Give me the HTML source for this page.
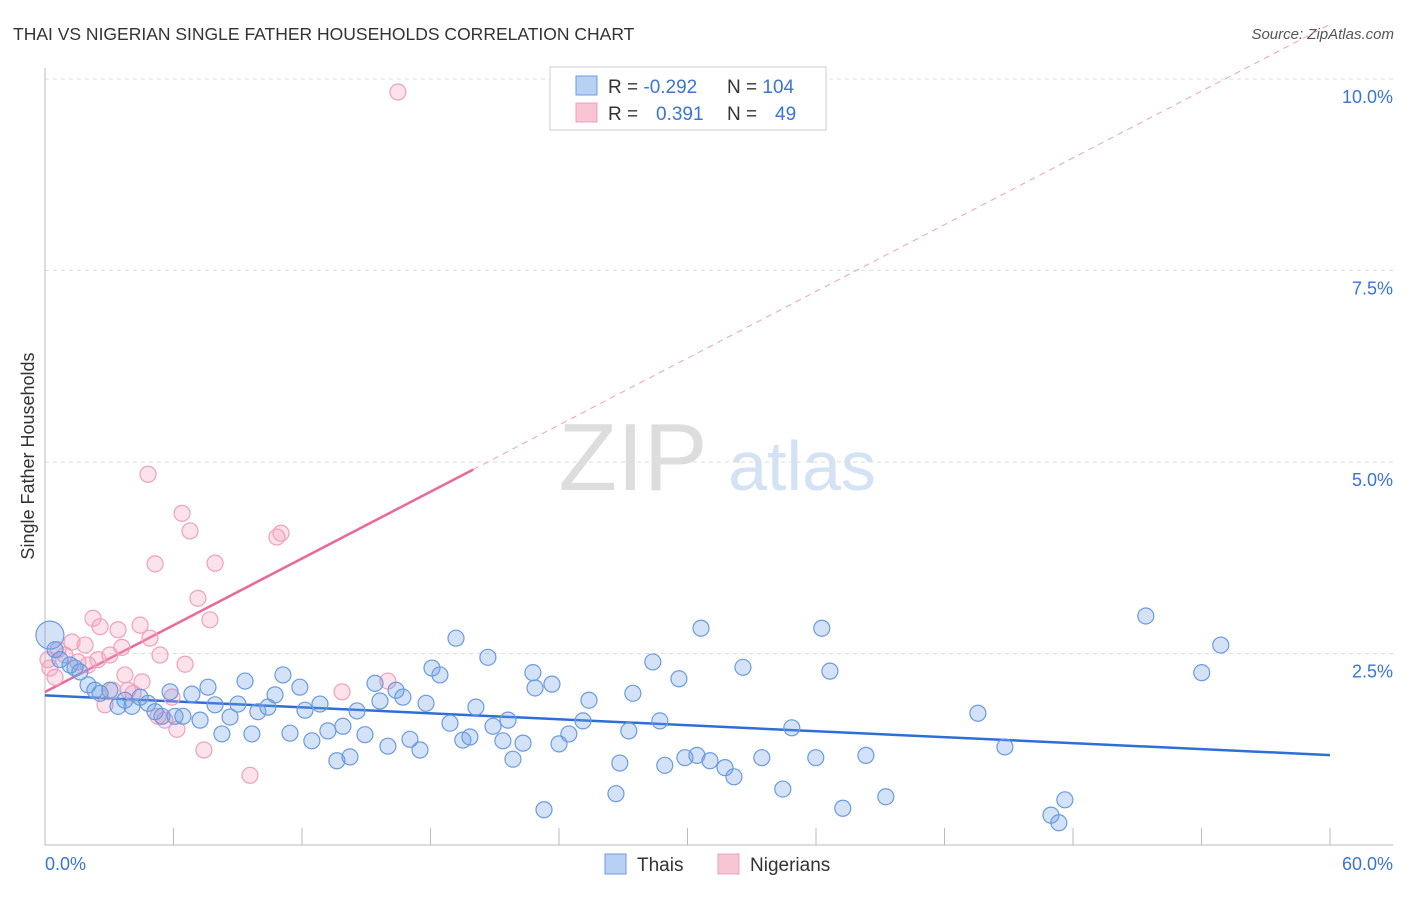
<!DOCTYPE html>
<html><head><meta charset="utf-8"><style>
body{margin:0;background:#fff;font-family:"Liberation Sans",sans-serif;}
svg text{font-family:"Liberation Sans",sans-serif;}
</style></head><body>
<svg id="chart" width="1406" height="892" viewBox="0 0 1406 892" xmlns="http://www.w3.org/2000/svg">
<text x="13" y="40" font-size="17.5" fill="#333">THAI VS NIGERIAN SINGLE FATHER HOUSEHOLDS CORRELATION CHART</text>
<text x="1394" y="39" font-size="15" fill="#555" font-style="italic" text-anchor="end">Source: ZipAtlas.com</text>
<g>
<text x="633" y="490" font-size="96" fill="#ddd" font-family="Liberation Serif,serif" text-anchor="middle">ZIP</text>
<text x="802" y="490" font-size="70" fill="#d3e2f5" text-anchor="middle">atlas</text>
</g>
<g id="grid"></g>
<g id="axes"></g>
<g id="lines"></g>
<g id="points"></g>
<text transform="translate(34,456) rotate(-90)" font-size="18" fill="#333" text-anchor="middle">Single Father Households</text>
<g>
<rect x="550" y="67" width="276" height="63" fill="#fff" stroke="#ccc"/>
<rect x="576" y="76" width="21" height="19" fill="#b7d0f3" stroke="#6a9be0"/>
<rect x="576" y="103" width="21" height="19" fill="#f8c5d5" stroke="#f0a0bc"/>
<text x="608" y="93" font-size="19" fill="#333">R = <tspan fill="#3a74d4">-0.292</tspan><tspan x="727">N = </tspan><tspan fill="#3a74d4">104</tspan></text>
<text x="608" y="120" font-size="19" fill="#333">R = <tspan x="656" fill="#3a74d4">0.391</tspan><tspan x="727">N = </tspan><tspan x="775" fill="#3a74d4">49</tspan></text>
</g>
<g>
<rect x="605" y="854" width="21" height="20" fill="#b7d0f3" stroke="#6a9be0"/>
<text x="637" y="871" font-size="19" fill="#333">Thais</text>
<rect x="718" y="854" width="21" height="20" fill="#f8c5d5" stroke="#f0a0bc"/>
<text x="750" y="871" font-size="19" fill="#333">Nigerians</text>
</g>
</svg>
<script>
const xTicks=[0,6,12,18,24,30,36,42,48,54,60];
const yTicks=[2.5,5.0,7.5,10.0];
const yTickLabels=["2.5%","5.0%","7.5%","10.0%"];
const xEndLabels=["0.0%","60.0%"];
const thaiX=[.23,.47,.70,1.17,1.40,1.63,2.01,2.33,2.57,3.03,3.41,3.73,4.06,4.44,4.81,5.14,5.46,5.84,6.07,6.44,6.86,7.24,7.61,7.94,8.26,8.64,9.01,9.34,9.66,9.94,10.41,10.74,11.11,11.44,11.90,12.14,12.46,12.84,13.21,13.63,13.91,14.24,14.57,14.94,15.41,15.64,16.01,16.39,16.71,17.04,17.51,17.79,18.07,18.44,18.91,19.19,19.51,19.84,20.12,20.68,20.92,21.38,21.62,21.85,22.32,22.78,22.88,23.30,23.67,24.00,24.46,25.12,25.40,26.66,26.84,27.26,27.45,28.38,28.71,28.94,29.60,29.88,30.44,30.63,31.05,31.75,32.17,32.59,33.47,34.45,34.87,35.99,36.27,36.65,37.25,38.33,39.26,43.56,44.82,46.97,47.34,47.62,51.40,54.01,54.90];
const thaiY=[2.74,2.55,2.42,2.35,2.31,2.26,2.09,2.02,1.98,2.02,1.81,1.89,1.81,1.93,1.85,1.74,1.68,2.00,1.68,1.68,1.97,1.63,2.06,1.83,1.45,1.67,1.84,2.14,1.45,1.74,1.80,1.96,2.22,1.46,2.06,1.76,1.36,1.84,1.49,1.10,1.55,1.15,1.75,1.44,2.11,1.88,1.29,2.02,1.93,1.38,1.24,1.85,2.31,2.22,1.59,2.70,1.37,1.41,1.80,2.45,1.55,1.36,1.63,1.12,1.33,2.25,2.05,0.46,2.10,1.32,1.45,1.62,1.89,0.67,1.07,1.49,1.98,2.39,1.62,1.04,2.17,1.14,1.17,2.83,1.10,1.01,0.89,2.32,1.14,0.73,1.53,1.14,2.83,2.27,0.48,1.17,0.63,1.72,1.28,0.39,0.29,0.59,2.99,2.25,2.61];
const nigX=[.14,.23,.47,.61,.93,1.26,1.54,1.87,2.01,2.24,2.47,2.57,2.80,3.03,3.17,3.41,3.59,3.73,3.87,4.11,4.44,4.53,4.81,4.90,5.14,5.28,5.37,5.60,5.93,6.16,6.40,6.54,6.77,7.14,7.42,7.70,7.94,9.57,10.83,11.02,13.87,16.01,16.48];
const nigY=[2.42,2.31,2.19,2.55,2.48,2.65,2.39,2.61,2.35,2.96,2.42,2.85,1.83,2.48,2.02,2.81,2.58,2.22,2.02,1.98,2.87,2.13,4.84,2.70,3.67,1.68,2.48,1.63,1.93,1.51,4.33,2.36,4.10,3.22,1.24,2.94,3.68,0.91,4.02,4.07,2.00,2.14,9.83];
const X0=45,X1=1330,Y0=845,Y10=79;
const sx=v=>X0+(v/60)*(X1-X0);
const sy=v=>Y0-(v/10)*(Y0-Y10);
const NS="http://www.w3.org/2000/svg";
function mk(tag,attrs,parent){const e=document.createElementNS(NS,tag);for(const k in attrs)e.setAttribute(k,attrs[k]);parent.appendChild(e);return e;}
const grid=document.getElementById('grid'),axes=document.getElementById('axes'),lines=document.getElementById('lines'),pts=document.getElementById('points');
yTicks.forEach((t,i)=>{
 const l=mk('line',{x1:X0,x2:1393,y1:sy(t),y2:sy(t),stroke:'#ddd','stroke-dasharray':'4,4'},grid);
 
 
 const tx=mk('text',{x:1393,y:sy(t)+24,'font-size':18,fill:'#3a74d4','text-anchor':'end'},axes);
 tx.textContent=yTickLabels[i];
 
 
});
mk('line',{x1:X0,x2:X0,y1:68,y2:Y0,stroke:'#bbb'},axes);
mk('line',{x1:X0,x2:1393,y1:Y0,y2:Y0,stroke:'#bbb'},axes);
xTicks.forEach(t=>{
 const l=mk('line',{x1:sx(t),x2:sx(t),y1:828,y2:Y0,stroke:'#bbb'},axes);
 
 
});
const xl0=mk('text',{x:45,y:870,'font-size':18,fill:'#3a74d4'},axes);xl0.textContent=xEndLabels[0];


const xl1=mk('text',{x:1393,y:870,'font-size':18,fill:'#3a74d4','text-anchor':'end'},axes);xl1.textContent=xEndLabels[1];


function fit(xs,ys){const n=xs.length;let mx=0,my=0;for(let i=0;i<n;i++){mx+=xs[i];my+=ys[i];}mx/=n;my/=n;let sxy=0,sxx=0;for(let i=0;i<n;i++){sxy+=(xs[i]-mx)*(ys[i]-my);sxx+=(xs[i]-mx)**2;}const b=sxy/sxx;return [my-b*mx,b];}
function drawPts(xs,ys,fill,stroke,name){xs.forEach((x,i)=>{const r=(x<0.5&&ys[i]>2.6&&name==='thai-point')?14:8;
 const c=mk('circle',{cx:sx(x),cy:sy(ys[i]),r:r,fill:fill,stroke:stroke,'stroke-width':1.2},pts);
 
 });}
drawPts(nigX,nigY,'rgba(245,160,190,0.3)','#f0a0bc','nigerian-point');
drawPts(thaiX,thaiY,'rgba(110,160,230,0.3)','#6a9be0','thai-point');
const [ta,tb]=fit(thaiX,thaiY);
const tl=mk('line',{x1:sx(0),y1:sy(ta),x2:sx(60),y2:sy(ta+tb*60),stroke:'#2d6fd6','stroke-width':2.5},lines);


const [na,nb]=fit(nigX,nigY);
const nl=mk('line',{x1:sx(0),y1:sy(na),x2:sx(20),y2:sy(na+nb*20),stroke:'#e8699a','stroke-width':2.5},lines);


const nd=mk('line',{x1:sx(20),y1:sy(na+nb*20),x2:sx(60),y2:sy(na+nb*60),stroke:'#f0a0bc','stroke-width':1,'stroke-dasharray':'6,5'},lines);


</script>
</body></html>
